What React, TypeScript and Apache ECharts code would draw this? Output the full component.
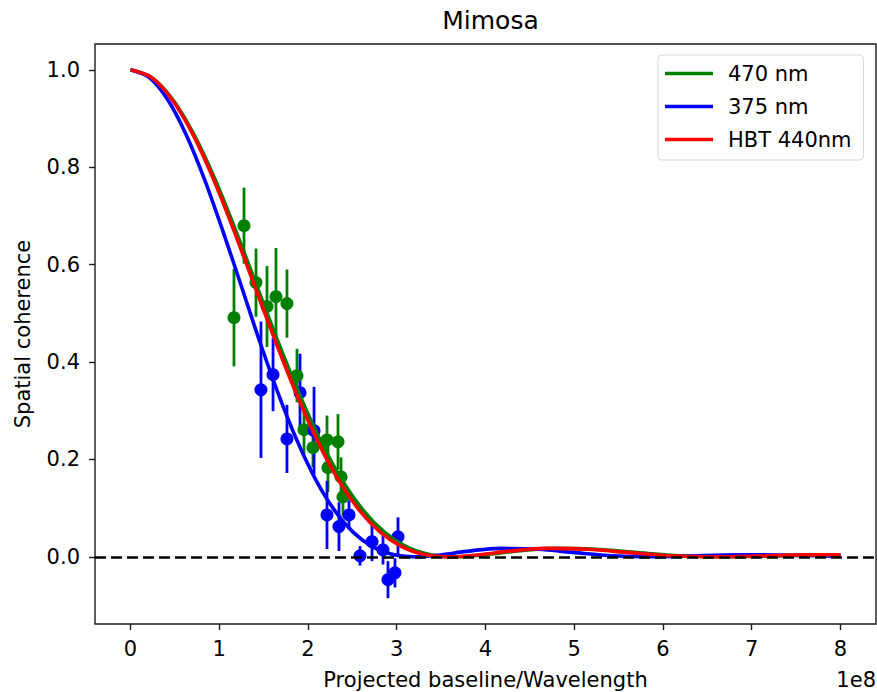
import React, { useEffect, useRef } from 'react';
import * as echarts from 'echarts';

// Model curves (x in units of 1e8, y spatial coherence)
const greenX = [0, 0.238, 0.476, 0.714, 0.953, 1.191, 1.429, 1.667, 1.905, 2.143, 2.381, 2.62, 2.858, 3.096, 3.334, 3.572, 3.65, 3.81, 4.048, 4.287, 4.525, 4.763, 5.239, 5.715, 6.192, 6.668, 7.144, 7.621, 8.0];
const greenY = [1, 0.9845, 0.9391, 0.8673, 0.7746, 0.6673, 0.5534, 0.4395, 0.3326, 0.2376, 0.1581, 0.0959, 0.0511, 0.022, 0.0062, 0.0003, 0, 0.0011, 0.0053, 0.0106, 0.0148, 0.0172, 0.0154, 0.0085, 0.0022, 0, 0.0013, 0.0035, 0.004];

const redX = [0, 0.234, 0.468, 0.703, 0.937, 1.171, 1.405, 1.64, 1.874, 2.108, 2.342, 2.577, 2.811, 3.045, 3.279, 3.513, 3.59, 3.748, 3.982, 4.216, 4.45, 4.685, 5.153, 5.622, 6.09, 6.558, 7.027, 7.495, 7.964, 8.0];
const redY = [1, 0.9845, 0.9391, 0.8673, 0.7746, 0.6673, 0.5534, 0.4395, 0.3326, 0.2376, 0.1581, 0.0959, 0.0511, 0.022, 0.0062, 0.0003, 0, 0.0011, 0.0053, 0.0106, 0.0148, 0.0172, 0.0154, 0.0085, 0.0022, 0, 0.0013, 0.0035, 0.0041, 0.0041];

const blueX = [0, 0.209, 0.418, 0.626, 0.835, 1.044, 1.253, 1.461, 1.67, 1.879, 2.088, 2.297, 2.505, 2.714, 2.923, 3.132, 3.2, 3.341, 3.549, 3.758, 3.967, 4.176, 4.593, 5.011, 5.428, 5.846, 6.264, 6.681, 7.099, 7.516, 7.934, 8.0];
const blueY = [1, 0.9845, 0.9391, 0.8673, 0.7746, 0.6673, 0.5534, 0.4395, 0.3326, 0.2376, 0.1581, 0.0959, 0.0511, 0.022, 0.0062, 0.0003, 0, 0.0011, 0.0053, 0.0106, 0.0148, 0.0172, 0.0154, 0.0085, 0.0022, 0, 0.0013, 0.0035, 0.0041, 0.003, 0.0012, 0.0009];

// Measurements: x, y, error
const green470X = [1.166, 1.279, 1.414, 1.538, 1.639, 1.763, 1.876, 1.955, 2.056, 2.214, 2.225, 2.338, 2.372, 2.394];
const green470Y = [0.491, 0.68, 0.563, 0.514, 0.534, 0.52, 0.372, 0.261, 0.224, 0.24, 0.183, 0.236, 0.164, 0.123];
const green470E = [0.1, 0.078, 0.07, 0.083, 0.1, 0.07, 0.055, 0.05, 0.04, 0.05, 0.05, 0.057, 0.04, 0.04];

const blue375X = [1.47, 1.606, 1.763, 1.91, 2.068, 2.214, 2.349, 2.462, 2.586, 2.721, 2.845, 3.014, 2.98, 2.901];
const blue375Y = [0.343, 0.374, 0.242, 0.337, 0.259, 0.086, 0.062, 0.086, 0.002, 0.031, 0.014, 0.041, -0.033, -0.047];
const blue375E = [0.14, 0.075, 0.07, 0.08, 0.09, 0.07, 0.05, 0.03, 0.02, 0.04, 0.03, 0.04, 0.03, 0.038];

const xTicks = [0, 1, 2, 3, 4, 5, 6, 7, 8];
const yTicks = [0, 0.2, 0.4, 0.6, 0.8, 1.0];

const FONT = 'DejaVu Sans';
const FS = 21;

function errorBarSeries(xs: number[], ys: number[], es: number[], color: string) {
  return {
    type: 'custom',
    silent: true,
    data: xs.map((x, i) => [x, ys[i], es[i]]),
    encode: { x: 0, y: 1 },
    renderItem: (params: any, api: any) => {
      const x = api.value(0);
      const y = api.value(1);
      const e = api.value(2);
      const p1 = api.coord([x, y - e]);
      const p2 = api.coord([x, y + e]);
      return {
        type: 'line',
        shape: { x1: p1[0], y1: p1[1], x2: p2[0], y2: p2[1] },
        style: { stroke: color, lineWidth: 2.8 },
      };
    },
  };
}

export default function App() {
  const ref = useRef<HTMLDivElement>(null);
  useEffect(() => {
    document.body.style.margin = '0';
    const chart = echarts.init(ref.current!, null, { renderer: 'svg' });
    const option: any = {
      animation: false,
      backgroundColor: '#ffffff',
      title: {
        text: 'Mimosa',
        left: 485.5,
        top: 3,
        textAlign: 'center',
        textStyle: { fontFamily: FONT, fontSize: 25, fontWeight: 'normal', color: '#000' },
      },
      grid: {
        left: 95,
        top: 44,
        right: 1,
        bottom: 68,
        show: true,
        outerBoundsMode: 'none',
        containLabel: false,
        borderColor: '#1a1a1a',
        borderWidth: 1.4,
        backgroundColor: 'transparent',
      },
      legend: {
        orient: 'vertical',
        left: 658,
        top: 55,
        data: ['470 nm', '375 nm', 'HBT 440nm'],
        icon: 'rect',
        itemWidth: 48,
        itemHeight: 3.5,
        itemGap: 12,
        padding: [8, 12, 10, 7],
        borderColor: '#d5d5d5',
        borderWidth: 1,
        borderRadius: 4,
        backgroundColor: 'rgba(255,255,255,0.8)',
        textStyle: { fontFamily: FONT, fontSize: FS, color: '#000', lineHeight: 21, padding: [0, 0, 0, 10] },
      },
      xAxis: {
        type: 'value',
        min: -0.4,
        max: 8.4,
        name: 'Projected baseline/Wavelength',
        nameLocation: 'middle',
        nameGap: 45,
        nameTextStyle: { fontFamily: FONT, fontSize: FS, color: '#000' },
        axisLine: { show: false, onZero: false },
        axisTick: { show: true, inside: false, length: 6, customValues: xTicks, lineStyle: { color: '#1a1a1a', width: 1.4 } },
        axisLabel: {
          customValues: xTicks,
          margin: 14,
          fontFamily: FONT,
          fontSize: FS,
          color: '#000',
          formatter: (v: number) => String(Math.round(v)),
        },
        splitLine: { show: false },
      },
      yAxis: {
        type: 'value',
        min: -0.138,
        max: 1.053,
        name: 'Spatial coherence',
        nameLocation: 'middle',
        nameGap: 62,
        nameTextStyle: { fontFamily: FONT, fontSize: FS, color: '#000' },
        axisLine: { show: false, onZero: false },
        axisTick: { show: true, inside: false, length: 6, customValues: yTicks, lineStyle: { color: '#1a1a1a', width: 1.4 } },
        axisLabel: {
          customValues: yTicks,
          margin: 15,
          fontFamily: FONT,
          fontSize: FS,
          color: '#000',
          formatter: (v: number) => v.toFixed(1),
        },
        splitLine: { show: false },
      },
      graphic: [
        {
          type: 'text',
          right: 1,
          top: 669,
          style: { text: '1e8', fontFamily: FONT, fontSize: FS, fill: '#000' },
        },
      ],
      series: [
        {
          name: '470 nm',
          type: 'line',
          data: greenX.map((x, i) => [x, greenY[i]]),
          showSymbol: false,
          smooth: 0.3,
          color: '#008000',
          lineStyle: { color: '#008000', width: 3.6 },
          markLine: {
            silent: true,
            symbol: 'none',
            label: { show: false },
            lineStyle: { color: '#000', width: 2.6, type: [11, 5] },
            data: [{ yAxis: 0 }],
          },
        },
        {
          name: '375 nm',
          type: 'line',
          data: blueX.map((x, i) => [x, blueY[i]]),
          showSymbol: false,
          smooth: 0.3,
          color: '#0000ff',
          lineStyle: { color: '#0000ff', width: 3.6 },
        },
        {
          name: 'HBT 440nm',
          type: 'line',
          data: redX.map((x, i) => [x, redY[i]]),
          showSymbol: false,
          smooth: 0.3,
          color: '#ff0000',
          lineStyle: { color: '#ff0000', width: 3.6 },
        },
        errorBarSeries(green470X, green470Y, green470E, '#008000'),
        {
          type: 'scatter',
          silent: true,
          symbol: 'circle',
          symbolSize: 13,
          itemStyle: { color: '#008000', opacity: 1 },
          data: green470X.map((x, i) => [x, green470Y[i]]),
        },
        errorBarSeries(blue375X, blue375Y, blue375E, '#0000ff'),
        {
          type: 'scatter',
          silent: true,
          symbol: 'circle',
          symbolSize: 13,
          itemStyle: { color: '#0000ff', opacity: 1 },
          data: blue375X.map((x, i) => [x, blue375Y[i]]),
        },
      ],
    };
    chart.setOption(option);
    return () => chart.dispose();
  }, []);
  return <div ref={ref} style={{ width: 877, height: 692 }} />;
}
